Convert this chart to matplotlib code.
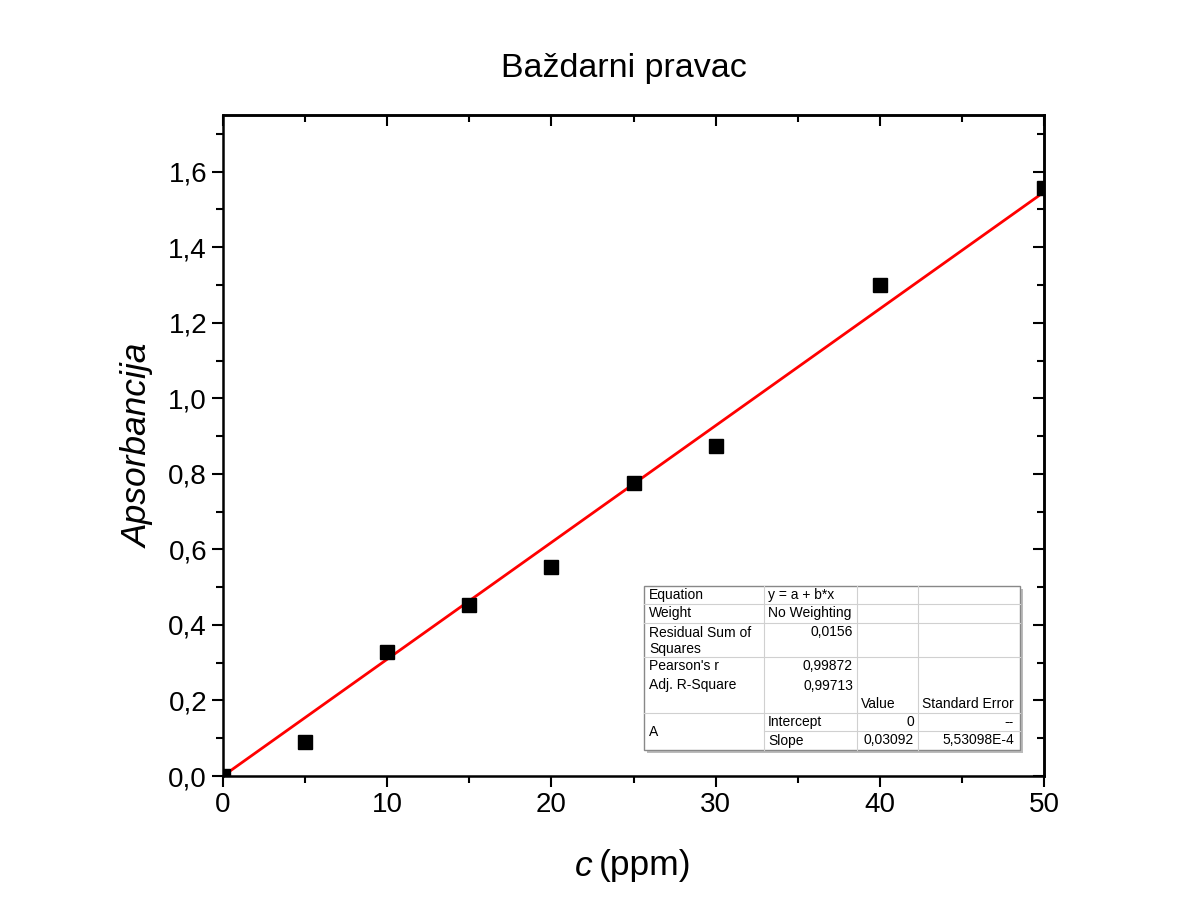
import matplotlib
matplotlib.use("Agg")
import matplotlib.pyplot as plt
from matplotlib.patches import Rectangle
from matplotlib.ticker import MultipleLocator, FuncFormatter
import numpy as np

plt.rcParams['font.family'] = ['Liberation Sans', 'DejaVu Sans']

# data
conc = [0, 5, 10, 15, 20, 25, 30, 40, 50]
absorb = [0.0, 0.090, 0.328, 0.453, 0.554, 0.776, 0.874, 1.300, 1.558]
slope = 0.03092
intercept = 0.0

# fit report table
tbl_col1 = ["Equation", "Weight", "Residual Sum of\nSquares", "Pearson's r",
            "Adj. R-Square", "", "Intercept", "Slope"]
tbl_col2 = ["y = a + b*x", "No Weighting", "0,0156", "", "", "", "", ""]
tbl_vals = ["0,99872", "0,99713"]
tbl_head = ["Value", "Standard Error"]
tbl_fit = [["0", "--"], ["0,03092", "5,53098E-4"]]

W, H = 1198, 919
fig = plt.figure(figsize=(W / 100, H / 100), dpi=100)
fig.patch.set_facecolor("white")
ax = fig.add_axes([223 / W, 1 - 776 / H, (1044 - 223) / W, (776 - 115) / H])

ax.plot(conc, absorb, ls="none", marker="s", ms=10, color="black", zorder=3)
xf = np.array([0, 50])
ax.plot(xf, intercept + slope * xf, color="red", lw=2, zorder=2)

ax.set_xlim(0, 50)
ax.set_ylim(0, 1.75)
ax.xaxis.set_major_locator(MultipleLocator(10))
ax.xaxis.set_minor_locator(MultipleLocator(5))
ax.yaxis.set_major_locator(MultipleLocator(0.2))
ax.yaxis.set_minor_locator(MultipleLocator(0.1))
ax.yaxis.set_major_formatter(FuncFormatter(lambda v, p: f"{v:.1f}".replace(".", ",")))
ax.tick_params(which="both", direction="out", width=1.5, labelsize=20,
               top=False, right=False)
ax.tick_params(which="major", length=8)
ax.tick_params(which="minor", length=5)
for s in ax.spines.values():
    s.set_linewidth(1.8)

# inward ticks on top and right
sec_x = ax.secondary_xaxis("top")
sec_x.xaxis.set_major_locator(MultipleLocator(10))
sec_x.xaxis.set_minor_locator(MultipleLocator(5))
sec_x.tick_params(which="both", direction="in", width=1.5, labeltop=False)
sec_x.tick_params(which="major", length=8)
sec_x.tick_params(which="minor", length=5)
sec_y = ax.secondary_yaxis("right")
sec_y.yaxis.set_major_locator(MultipleLocator(0.2))
sec_y.yaxis.set_minor_locator(MultipleLocator(0.1))
sec_y.tick_params(which="both", direction="in", width=1.5, labelright=False)
sec_y.tick_params(which="major", length=8)
sec_y.tick_params(which="minor", length=5)
for s in list(sec_x.spines.values()) + list(sec_y.spines.values()):
    s.set_linewidth(1.8)

fig.text(593 / W, 1 - 866 / H, "c", fontsize=25.5, style="italic", ha="right", va="center")
fig.text(599 / W, 1 - 866 / H, "(ppm)", fontsize=25.5, ha="left", va="center")
ax.set_ylabel("Apsorbancija", fontsize=25.5, style="italic", labelpad=10)
fig.text(624 / W, 1 - 68 / H, "Baždarni pravac", fontsize=24.5, ha="center", va="center")

# fit table drawn in pixel coordinates
def fx(px):
    return px / W

def fy(py):
    return 1 - py / H

cols = [644, 764, 857, 918, 1020]
rows = [586, 604, 623, 657, 676, 694, 713, 731, 750]
grid = "#d0d0d0"
fig.patches.append(Rectangle((fx(647), fy(753)), fx(1023) - fx(647), fy(589) - fy(753),
                             transform=fig.transFigure, facecolor="#bbbbbb", edgecolor="none", zorder=4))
fig.patches.append(Rectangle((fx(644), fy(750)), fx(1020) - fx(644), fy(586) - fy(750),
                             transform=fig.transFigure, facecolor="white", edgecolor="#888888",
                             lw=1, zorder=5))
line_kw = dict(transform=fig.transFigure, color=grid, lw=0.8, zorder=6)
for c in cols[1:-1]:
    fig.add_artist(plt.Line2D([fx(c), fx(c)], [fy(586), fy(750)], **line_kw))
for r in rows[1:-1]:
    if r in (676, 694):
        continue
    x0 = cols[1] if r == 731 else cols[0]
    fig.add_artist(plt.Line2D([fx(x0), fx(1020)], [fy(r), fy(r)], **line_kw))

tk = dict(fontsize=10, zorder=7, transform=fig.transFigure)

def ycen(i):
    return fy(rows[i] + 9.5)

for i, lab in enumerate(tbl_col1):
    if i in (6, 7) or not lab:
        continue
    if i == 2:
        fig.text(fx(cols[0] + 5), fy(rows[i] + 3), lab, ha="left", va="top",
                 linespacing=1.15, **tk)
    else:
        fig.text(fx(cols[0] + 5), ycen(i), lab, ha="left", va="center", **tk)
fig.text(fx(cols[0] + 5), fy(732), "A", ha="left", va="center", **tk)
for i in (6, 7):
    fig.text(fx(cols[1] + 4), fy((rows[i] + rows[i + 1]) / 2), tbl_col1[i],
             ha="left", va="center", **tk)
for i, val in enumerate(tbl_col2):
    if not val:
        continue
    if i < 2:
        fig.text(fx(cols[1] + 4), ycen(i), val, ha="left", va="center", **tk)
    else:
        fig.text(fx(cols[2] - 4), ycen(i), val, ha="right", va="center", **tk)
for j, val in enumerate(tbl_vals):
    fig.text(fx(cols[2] - 4), ycen(3 + j), val, ha="right", va="center", **tk)
fig.text(fx(cols[2] + 4), ycen(5), tbl_head[0], ha="left", va="center", **tk)
fig.text(fx(cols[3] + 4), ycen(5), tbl_head[1], ha="left", va="center", **tk)
for k, (v, e) in enumerate(tbl_fit):
    yy = fy((rows[6 + k] + rows[7 + k]) / 2)
    fig.text(fx(cols[3] - 4), yy, v, ha="right", va="center", **tk)
    fig.text(fx(cols[4] - 6), yy, e, ha="right", va="center", **tk)

fig.savefig("out.png", dpi=100)
